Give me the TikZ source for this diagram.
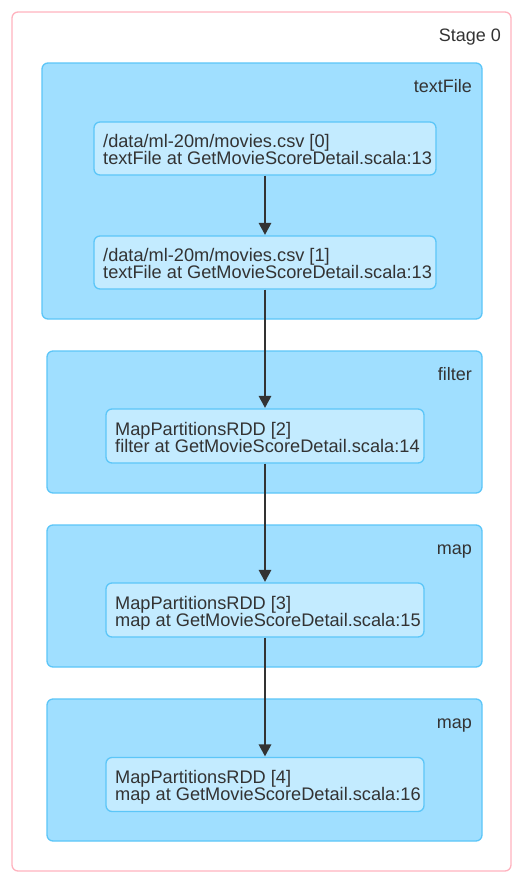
\documentclass[tikz,border=0pt]{standalone}
\usepackage{fontspec}
\setmainfont{Liberation Sans}
\usetikzlibrary{arrows.meta}
\definecolor{stageline}{HTML}{FFB3BF}
\definecolor{clfill}{HTML}{A0DFFF}
\definecolor{clline}{HTML}{5CC6F8}
\definecolor{rddfill}{HTML}{C3EBFF}
\definecolor{rddline}{HTML}{5CC6F8}
\definecolor{ink}{HTML}{333333}
\tikzset{
  stagebox/.style={draw=stageline, line width=1.3pt, fill=white, rounded corners=6pt},
  clusterbox/.style={draw=clline, line width=1.3pt, fill=clfill, rounded corners=6pt},
  rddbox/.style={draw=rddline, line width=1.3pt, fill=rddfill, rounded corners=6pt},
  lbl/.style={anchor=base east, inner sep=0pt, text=ink, font=\fontsize{18}{17}\selectfont},
  rddtext/.style={anchor=base west, inner sep=0pt, text=ink, align=left, font=\fontsize{18.2}{17}\selectfont},
  edge/.style={draw=ink, line width=1.7pt, -{Triangle[length=12pt,width=12.5pt]}, shorten >=0.5pt}
}
\begin{document}
\begin{tikzpicture}[x=1pt,y=-1pt]
\useasboundingbox (0,0) rectangle (530,884);
% stage
\path[stagebox] (12,12) rectangle (511,871);
\node[lbl] (stagelbl) at (501,41) {Stage 0};
% clusters
\path[clusterbox] (42,63) rectangle (482,319);
\node[lbl] (l1) at (472,92) {textFile};
\path[clusterbox] (47,351) rectangle (482,493);
\node[lbl] (l2) at (472,380) {filter};
\path[clusterbox] (47,525) rectangle (482,667);
\node[lbl] (l3) at (472,554) {map};
\path[clusterbox] (47,699) rectangle (482,841);
\node[lbl] (l4) at (472,728) {map};
% rdd nodes
\node[rddbox, minimum width=342pt, minimum height=53pt, inner sep=0pt] (r0) at (265,148.5) {};
\node[rddbox, minimum width=342pt, minimum height=53pt, inner sep=0pt] (r1) at (265,262.5) {};
\node[rddbox, minimum width=318pt, minimum height=54pt, inner sep=0pt] (r2) at (265,436) {};
\node[rddbox, minimum width=318pt, minimum height=54pt, inner sep=0pt] (r3) at (265,610) {};
\node[rddbox, minimum width=318pt, minimum height=54pt, inner sep=0pt] (r4) at (265,784.5) {};
% texts
\node[rddtext] (t0a) at (103,147) {/data/ml-20m/movies.csv [0]};
\node[rddtext] (t0b) at (103,164) {textFile at GetMovieScoreDetail.scala:13};
\node[rddtext] (t1a) at (103,261) {/data/ml-20m/movies.csv [1]};
\node[rddtext] (t1b) at (103,278) {textFile at GetMovieScoreDetail.scala:13};
\node[rddtext] (t2a) at (115,435) {MapPartitionsRDD [2]};
\node[rddtext] (t2b) at (115,452) {filter at GetMovieScoreDetail.scala:14};
\node[rddtext] (t3a) at (115,609) {MapPartitionsRDD [3]};
\node[rddtext] (t3b) at (115,626) {map at GetMovieScoreDetail.scala:15};
\node[rddtext] (t4a) at (115,783.5) {MapPartitionsRDD [4]};
\node[rddtext] (t4b) at (115,800.5) {map at GetMovieScoreDetail.scala:16};
% edges
\draw[edge] (r0.south) -- (r1.north);
\draw[edge] (r1.south) -- (r2.north);
\draw[edge] (r2.south) -- (r3.north);
\draw[edge] (r3.south) -- (r4.north);
\end{tikzpicture}
\end{document}
